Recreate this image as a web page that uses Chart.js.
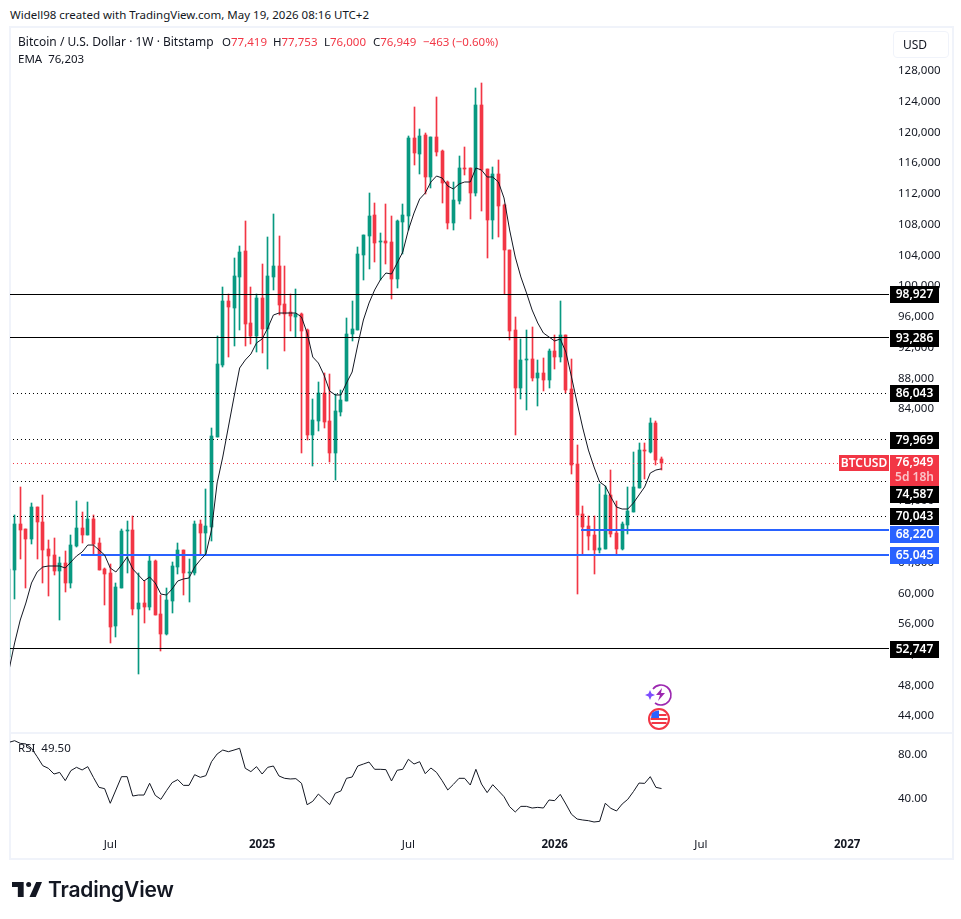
<!DOCTYPE html>
<html>
<head>
<meta charset="utf-8">
<script src="https://cdn.jsdelivr.net/npm/chart.js@4/dist/chart.umd.min.js"></script>
<style>
  html, body { margin: 0; background: #fff; }
  body { width: 961px; height: 919px; position: relative; overflow: hidden; font-family: "Noto Sans", sans-serif; font-size: 11.5px; color: #131722; }
  canvas { position: absolute; display: block; }
  .t { position: absolute; white-space: nowrap; line-height: 16px; }
  .red { color: #f23645; }
  #frame { position: absolute; left: 9px; top: 26px; width: 941px; height: 830px; border: 2px solid #f0f3fa; }
  #sep { position: absolute; left: 11px; top: 732px; width: 941px; height: 2px; background: #f0f3fa; }
  #usd { position: absolute; left: 893px; top: 31px; width: 45px; height: 25px; padding-left: 9px; border: 1px solid #f0f3fa; border-radius: 4px; line-height: 25px; font-size: 12px; }
</style>
</head>
<body>
<div class="t" style="left:10px;top:7px">Widell98 created with TradingView.com, May 19, 2026 08:16 UTC+2</div>
<div id="frame"></div>
<div id="sep"></div>
<canvas id="price-chart" width="940" height="704" style="left:10px;top:28px"></canvas>
<canvas id="rsi-chart" width="940" height="124" style="left:10px;top:734px"></canvas>
<div class="t" style="left:18px;top:34px;font-size:12px">Bitcoin / U.S. Dollar · 1W · Bitstamp</div>
<div class="t" style="left:222px;top:34px">O<span class="red">77,419</span></div>
<div class="t" style="left:273px;top:34px">H<span class="red">77,753</span></div>
<div class="t" style="left:324px;top:34px">L<span class="red">76,000</span></div>
<div class="t" style="left:373px;top:34px">C<span class="red">76,949</span></div>
<div class="t red" style="left:423px;top:34px">−463 (−0.60%)</div>
<div class="t" style="left:18px;top:51px">EMA&nbsp; 76,203</div>
<div class="t" style="left:18px;top:740px">RSI&nbsp; 49.50</div>
<div id="usd">USD</div>

<svg style="position:absolute;left:645px;top:682px" width="28" height="50" viewBox="0 0 28 50">
  <path d="M8 7 A10 10 0 1 1 10 21" fill="none" stroke="#9c27b0" stroke-width="1.6"/>
  <path d="M17 6 L11 13 H15 L13 19 L20 11 H16 Z" fill="#9c27b0"/>
  <path d="M5 8 L6.5 11.5 L10 13 L6.5 14.500 L5 18 L3.500 14.500 L0 13 L3.500 11.500 Z" fill="#7c4dff"/>
  <circle cx="14" cy="37" r="10" fill="#fff" stroke="#f23645" stroke-width="2"/>
  <path d="M6.500 33 H21.500 M5.500 37 H22.500 M6.500 41 H21.500" stroke="#f23645" stroke-width="2"/>
  <path d="M7 31 A9 9 0 0 1 14 28.500 V36 H6 Z" fill="#2962ff"/>
</svg>

<svg style="position:absolute;left:12px;top:881px" width="30" height="17" viewBox="0 2 36 18">
  <path d="M14 2 H0 V8 H7 V20 H14 Z" fill="#131722"/>
  <circle cx="20" cy="5" r="3" fill="#131722"/>
  <path d="M29 2 H36 L28.500 20 H21 Z" fill="#131722"/>
</svg>
<div class="t" style="left:48px;top:877px;font-family:Inter,sans-serif;font-size:21px;font-weight:600;line-height:25px;letter-spacing:-0.2px">TradingView</div>

<script>
const opens = [51700,63030,69020,68370,67070,71230,69280,65760,64980,62900,63940,61340,66160,68500,67590,69670,66550,63160,62640,55740,60690,68150,68240,57950,58730,58210,64200,57300,54700,58990,63420,65630,62640,62640,69020,67850,68630,80350,89720,98050,97140,101180,104560,95190,93500,98440,94410,101180,102610,97660,96620,95970,96360,94280,80610,82430,86080,82430,78260,83600,85030,93760,94280,104040,106520,109250,105780,105870,105740,100920,108340,109120,119280,117190,119670,114200,119410,117580,113550,108210,111070,115370,115370,112120,123570,115240,108600,114590,110550,104690,94280,86730,90370,90500,88030,88680,87770,91540,90760,93630,86600,76830,70320,68760,67590,65630,65760,72800,67850,65760,68890,70580,73710,78650,78390,82170,77419];
const highs = [63200,70190,73880,68370,71800,71230,72800,66940,67200,64720,65500,67590,72010,70580,71880,70190,67200,63290,63810,61340,68370,69410,70060,62600,61600,64980,64330,59780,60690,64070,66550,65630,64460,69410,69540,73580,81520,93500,99880,98970,103650,105220,108470,99880,98970,102870,106390,109380,106520,102610,98970,99620,96490,94410,85290,87510,88680,88550,85950,86470,95840,98050,105090,106650,112120,110810,106910,110680,109120,108600,110680,119540,123310,120450,119930,119410,124620,117710,113680,113550,116930,118100,115370,125790,126440,115240,115500,116410,110680,104690,95970,93110,94280,94670,90370,90630,91800,93630,98050,93630,90500,79300,71360,70060,70060,74230,73970,76050,72010,69280,73840,78390,79570,79570,82820,82430,77753];
const lows = [51000,59250,64460,60690,66420,64460,61340,59650,62380,56520,60170,60690,66020,66550,67590,64980,63030,58470,53530,54310,60690,62600,57170,49490,56130,57820,57170,52480,54570,57430,62510,59780,58860,62380,64980,64980,66800,80350,89460,90760,92200,94280,92200,92460,91410,91280,89200,99490,96230,91540,94150,93370,78260,79960,76570,81130,81520,77090,74750,83080,85030,92850,94280,100790,102220,103130,100790,102870,98310,99750,104170,107300,115760,114590,111990,112770,116930,110810,107430,107300,110680,114460,108730,111720,109770,103650,106130,106390,98970,92980,80610,85290,83860,87640,84380,86340,86730,89200,90110,86080,75530,59900,65110,65630,62510,65240,65760,67330,64980,65630,67720,70580,73710,74880,78260,76700,76000];
const closes = [63160,69020,68240,67070,71230,69280,65630,64850,62900,63940,61340,66290,68500,67590,69670,66420,63030,62510,55610,60820,68110,68240,57950,58730,58210,64200,57170,54700,59120,63550,65630,62640,62770,69020,67850,68760,80480,89850,98050,97270,101310,104430,95060,93500,98440,94410,101310,102610,97530,96360,96100,96360,94150,80610,82560,86080,82300,78260,83730,85160,93760,94410,104170,106650,109120,105610,105870,105610,100920,108470,109250,119280,117320,119540,114200,119410,117450,113420,108210,111200,115370,115240,112120,123570,115110,108600,114590,110420,104690,94150,86730,90370,90500,88030,88680,87770,91540,90760,93630,86470,76700,70190,68630,67460,65630,65890,72800,67720,65760,69020,70710,73840,78650,78520,82170,77350,76949];
const ema = [50010,53530,56520,58730,61340,62770,63420,63550,63550,63550,63290,64070,64850,65370,66280,66280,65630,64980,63290,62770,63680,64720,63160,62380,61600,62120,61340,59900,59770,60560,61600,61860,61990,63420,64330,65110,68240,74360,77740,81650,85550,89330,90370,91150,92590,93110,94540,96230,96490,96490,96490,96490,95970,93890,90760,89980,88420,86340,85820,85820,87380,88810,92330,95580,97790,99490,100790,101700,101570,103000,104430,107300,109510,111330,112120,113550,114330,114070,113030,112640,113290,113550,113550,115370,115110,114200,114200,113550,111470,107300,103780,101180,99100,96880,95190,93890,93370,92850,93110,91410,88160,84770,81520,78650,76440,74490,73970,72530,71230,70970,70970,71750,72800,73840,75660,76050,76203];
const rsi = [91.5,93.0,90.6,90.0,86.1,78.5,70.3,67.9,62.7,64.2,56.7,65.8,68.8,66.4,69.4,59.7,50.6,49.4,36.1,48.2,60.3,60.3,42.7,43.6,43.6,54.3,43.3,39.7,47.6,54.9,57.6,52.4,52.4,62.1,59.7,61.2,73.9,80.9,84.5,83.0,84.5,86.1,67.9,64.9,69.4,62.7,68.8,70.0,60.9,58.8,58.2,58.5,54.3,34.8,37.9,44.5,39.7,34.8,45.2,47.3,58.8,60.0,70.0,71.8,73.6,67.0,67.0,66.7,56.4,66.1,67.0,76.1,71.8,73.9,63.0,68.2,64.2,56.7,48.2,53.3,58.8,58.8,52.7,67.0,53.6,45.8,53.0,47.6,42.1,33.0,28.2,33.3,33.3,31.8,32.4,31.8,39.1,38.5,44.2,35.4,26.1,21.8,20.9,20.3,19.1,19.7,36.1,31.5,29.1,35.4,39.7,46.7,54.5,54.2,60.3,50.6,49.5];

const priceTicks = [44000,48000,52000,56000,60000,64000,68000,72000,76000,80000,84000,88000,92000,96000,100000,104000,108000,112000,116000,120000,124000,128000];
const rsiTicks = [40,80];
const weekTicks = [18,45,71,97,123,149];
const weekLabels = ['Jul','2025','Jul','2026','Jul','2027'];

const levelPrices = [98927,93286,86043,79969,76949,74587,70043,68220,65045,52747];
const levelStarts = [0,0,0,0,0,0,0,101.7,12.8,0];
const levelKinds = ['solid','solid','dot','dot','last','dot','dot','blue','blue','solid'];

const UP = '#089981', DOWN = '#f23645', BLUE = '#2962ff';
const FONT = '"Noto Sans", sans-serif';
const xMin = 0.178, xMax = 156.44;

const weeks = opens.map((_, i) => i);
const candleColors = weeks.map(i => closes[i] >= opens[i] ? UP : DOWN);

// keep the plot area at the full box, axis labels must not push it in
function noPadding(s) {
    s.paddingTop = s.paddingBottom = s.paddingLeft = s.paddingRight = 0;
}

// pixel snap so the candles and level lines stay crisp like the original
const snapPlugin = {
    id: 'snap',
    afterDatasetsUpdate(chart) {
        chart.data.datasets.forEach((ds, n) => {
            const meta = chart.getDatasetMeta(n);
            if (ds.snapBars) {
                meta.data.forEach(el => {
                    el.x = Math.floor(el.x) + 0.5;
                    const top = Math.round(Math.min(el.y, el.base));
                    const bottom = Math.max(Math.round(Math.max(el.y, el.base)), top + 1);
                    el.y = top;
                    el.base = bottom;
                });
            }
            if (ds.snapLevel) {
                const w = ds.borderWidth;
                meta.data.forEach(el => {
                    el.y = w === 2 ? Math.round(el.y) : Math.floor(el.y) + 0.5;
                });
            }
        });
    }
};

function tag(ctx, x, y, w, h, bg, text, color) {
    ctx.fillStyle = bg;
    ctx.fillRect(x, y, w, h);
    if (text) {
        ctx.fillStyle = color;
        ctx.fillText(text, x + w / 2, y + h / 2 + 0.5);
    }
}

// price tags on the axis, painted over the tick labels
const tagPlugin = {
    id: 'tags',
    afterDraw(chart) {
        const { ctx, scales: { y } } = chart;
        const shift = { 74587: 13, 68220: 4 };
        ctx.save();
        ctx.font = '600 12px ' + FONT;
        ctx.textAlign = 'center';
        ctx.textBaseline = 'middle';
        levelPrices.forEach((p, i) => {
            if (levelKinds[i] === 'last') return;
            const cy = Math.round(y.getPixelForValue(p)) + (shift[p] || 0);
            const bg = levelKinds[i] === 'blue' ? BLUE : '#000';
            tag(ctx, 880, cy - 8, 49, 17, bg, p.toLocaleString('en-US'), '#fff');
        });
        const cy = Math.round(y.getPixelForValue(closes[closes.length - 1]));
        tag(ctx, 829, cy - 8, 50, 16, DOWN, 'BTCUSD', '#fff');
        tag(ctx, 880, cy - 8, 49, 31, DOWN, '', '#fff');
        ctx.fillStyle = '#fff';
        ctx.fillText(closes[closes.length - 1].toLocaleString('en-US'), 904.5, cy);
        ctx.fillStyle = '#fbc4c9';
        ctx.fillText('5d 18h', 904.5, cy + 14.5);
        ctx.restore();
    }
};

const levelSets = levelPrices.map((p, i) => {
    const kind = levelKinds[i];
    return {
        type: 'line',
        data: [{ x: levelStarts[i], y: p }, { x: xMax, y: p }],
        borderColor: kind === 'blue' ? BLUE : kind === 'last' ? DOWN : '#000',
        borderWidth: kind === 'blue' ? 2 : 1,
        borderDash: kind === 'dot' || kind === 'last' ? [1, 3] : [],
        pointRadius: 0,
        tension: 0,
        snapLevel: true,
        order: 2
    };
});

new Chart(document.getElementById('price-chart'), {
    type: 'bar',
    data: {
        datasets: [
            {
                type: 'line',
                data: weeks.map(i => ({ x: i, y: ema[i] })),
                borderColor: '#131722',
                borderWidth: 1,
                pointRadius: 0,
                tension: 0,
                order: 1
            },
            ...levelSets,
            {
                data: weeks.map(i => ({ x: i, y: [opens[i], closes[i]] })),
                backgroundColor: candleColors,
                barThickness: 3,
                grouped: false,
                snapBars: true,
                order: 3
            },
            {
                data: weeks.map(i => ({ x: i, y: [lows[i], highs[i]] })),
                backgroundColor: candleColors,
                barThickness: 1,
                grouped: false,
                snapBars: true,
                order: 4
            }
        ]
    },
    options: {
        responsive: false,
        devicePixelRatio: 1,
        animation: false,
        layout: { padding: 0 },
        plugins: { legend: { display: false }, tooltip: { enabled: false } },
        scales: {
            x: { type: 'linear', min: xMin, max: xMax, offset: false, display: false },
            y: {
                type: 'linear',
                position: 'right',
                min: 41938,
                max: 133600,
                grid: { display: false, drawTicks: false },
                border: { display: false },
                afterBuildTicks(s) { s.ticks = priceTicks.map(v => ({ value: v })); },
                afterFit(s) { s.width = 61; noPadding(s); },
                ticks: {
                    autoSkip: false,
                    padding: 9,
                    crossAlign: 'near',
                    color: '#131722',
                    font: { family: FONT, size: 11.5 },
                    callback: v => v.toLocaleString('en-US')
                }
            }
        }
    },
    plugins: [snapPlugin, tagPlugin]
});

new Chart(document.getElementById('rsi-chart'), {
    type: 'line',
    data: {
        datasets: [{
            data: weeks.map(i => ({ x: i, y: rsi[i] })),
            borderColor: '#131722',
            borderWidth: 1,
            pointRadius: 0,
            tension: 0
        }]
    },
    options: {
        responsive: false,
        devicePixelRatio: 1,
        animation: false,
        layout: { padding: 0 },
        plugins: { legend: { display: false }, tooltip: { enabled: false } },
        scales: {
            x: {
                type: 'linear',
                min: xMin,
                max: xMax,
                grid: { display: false, drawTicks: false },
                border: { display: false },
                afterBuildTicks(s) { s.ticks = weekTicks.map(v => ({ value: v })); },
                afterFit(s) { s.height = 28; noPadding(s); },
                ticks: {
                    autoSkip: false,
                    maxRotation: 0,
                    padding: 8,
                    color: '#131722',
                    font: ctx => ({
                        family: FONT,
                        size: 11.5,
                        weight: ctx.tick && weekLabels[weekTicks.indexOf(ctx.tick.value)].length === 4 ? '700' : '400'
                    }),
                    callback: v => weekLabels[weekTicks.indexOf(v)]
                }
            },
            y: {
                type: 'linear',
                position: 'right',
                min: 11.82,
                max: 99.09,
                grid: { display: false, drawTicks: false },
                border: { display: false },
                afterBuildTicks(s) { s.ticks = rsiTicks.map(v => ({ value: v })); },
                afterFit(s) { s.width = 61; noPadding(s); },
                ticks: {
                    autoSkip: false,
                    padding: 9,
                    crossAlign: 'near',
                    color: '#131722',
                    font: { family: FONT, size: 11.5 },
                    callback: v => v.toFixed(2)
                }
            }
        }
    }
});
</script>
</body>
</html>
